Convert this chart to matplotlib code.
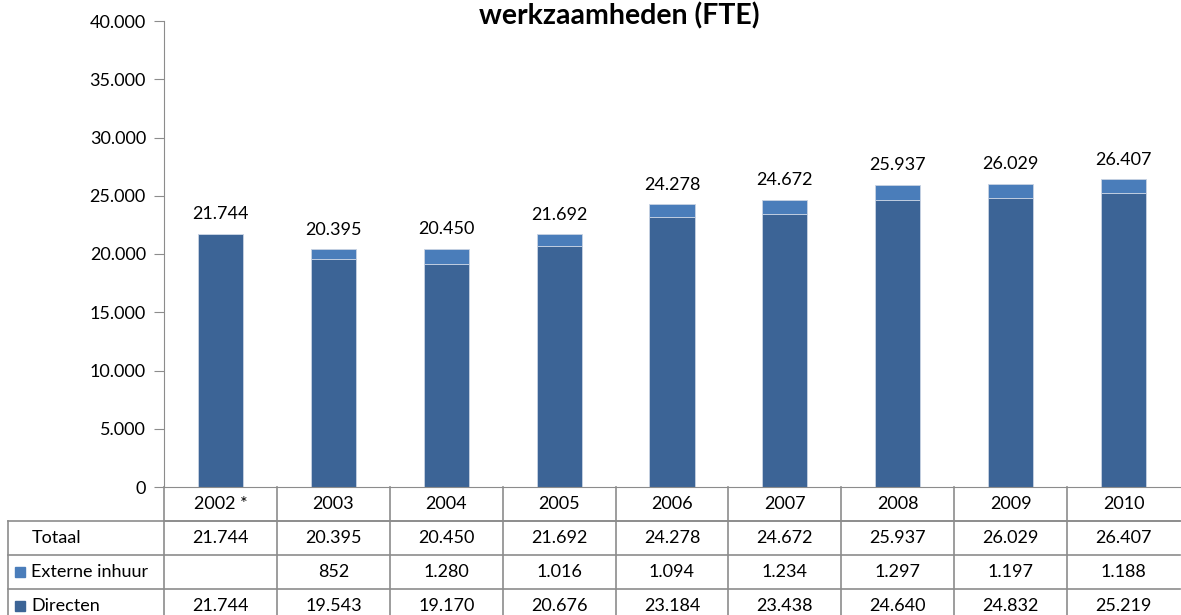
import matplotlib.pyplot as plt
import numpy as np

plt.rcParams['font.family'] = ['Lato', 'DejaVu Sans']

# data
years = ['2002 *', '2003', '2004', '2005', '2006', '2007', '2008', '2009', '2010']
directen = [21744, 19543, 19170, 20676, 23184, 23438, 24640, 24832, 25219]
externe = [0, 852, 1280, 1016, 1094, 1234, 1297, 1197, 1188]
totaal = [21744, 20395, 20450, 21692, 24278, 24672, 25937, 26029, 26407]

C_DIR = '#3C6496'
C_EXT = '#4A7DBA'
GRID = '#8C8C8C'


def fmt(v):
    return f'{v:,}'.replace(',', '.')


W, H = 1181, 615
fig = plt.figure(figsize=(W / 100, H / 100), dpi=100)

# plot area in pixels
x0, x1 = 164, 1180
y_top, y_zero = 21, 487
ax = fig.add_axes([x0 / W, 1 - y_zero / H, (x1 - x0) / W, (y_zero - y_top) / H])

x = np.arange(len(years))
width = 0.4
ax.bar(x, directen, width, color=C_DIR, edgecolor='#C9D3E3', linewidth=0.6)
ax.bar(x, externe, width, bottom=directen, color=C_EXT, edgecolor='#C9D3E3', linewidth=0.6)

for xi, t in zip(x, totaal):
    ax.text(xi, t + 1000, fmt(t), ha='center', va='bottom', fontsize=13)

ax.set_xlim(-0.5, len(years) - 0.5)
ax.set_ylim(0, 40000)
ax.set_yticks(np.arange(0, 40001, 5000))
ax.set_yticklabels([fmt(v) for v in range(0, 40001, 5000)], fontsize=13)
ax.set_xticks([])
for s in ['top', 'right']:
    ax.spines[s].set_visible(False)
ax.spines['left'].set_color(GRID)
ax.spines['bottom'].set_color(GRID)
ax.tick_params(axis='y', length=7, color=GRID, pad=6)

# data table below the chart (pixel layout)
row_edges = [487, 521, 555, 589, 623]
label_left = 8
col_w = (x1 - x0) / len(years)


def fx(px):
    return px / W


def fy(py):
    return 1 - py / H


line_kw = dict(color=GRID, linewidth=1.2, transform=fig.transFigure)

# horizontal lines
fig.add_artist(plt.Line2D([fx(x0), fx(x1)], [fy(row_edges[1])] * 2, **line_kw))
for r in row_edges[1:4]:
    fig.add_artist(plt.Line2D([fx(label_left), fx(x1)], [fy(r)] * 2, **line_kw))
# vertical lines
fig.add_artist(plt.Line2D([fx(label_left)] * 2, [fy(row_edges[1]), 0], **line_kw))
fig.add_artist(plt.Line2D([fx(x0)] * 2, [fy(row_edges[0]), 0], **line_kw))
for i in range(1, len(years)):
    xc = x0 + i * col_w
    fig.add_artist(plt.Line2D([fx(xc)] * 2, [fy(row_edges[0]), 0], **line_kw))

rows = [
    ('Totaal', None, totaal),
    ('Externe inhuur', C_EXT, externe),
    ('Directen', C_DIR, directen),
]

# header row with years
for i, yr in enumerate(years):
    xc = x0 + (i + 0.5) * col_w
    fig.text(fx(xc), fy((row_edges[0] + row_edges[1]) / 2), yr,
             ha='center', va='center', fontsize=13)

for r, (name, col, vals) in enumerate(rows):
    yc = (row_edges[r + 1] + row_edges[r + 2]) / 2
    if col is None:
        fig.text(fx(32), fy(yc), name, ha='left', va='center', fontsize=13)
    else:
        fig.add_artist(plt.Rectangle((fx(15), fy(yc + 5)), 10 / W, 10 / H,
                                     color=col, transform=fig.transFigure))
        fig.text(fx(31), fy(yc), name, ha='left', va='center', fontsize=13)
    for i, v in enumerate(vals):
        if v == 0:
            continue
        xc = x0 + (i + 0.5) * col_w
        fig.text(fx(xc), fy(yc), fmt(v), ha='center', va='center', fontsize=13)

fig.text(fx(619), fy(16), 'werkzaamheden (FTE)', ha='center', va='center',
         fontsize=20.5, fontweight='bold')

fig.savefig('out.png', dpi=100)
